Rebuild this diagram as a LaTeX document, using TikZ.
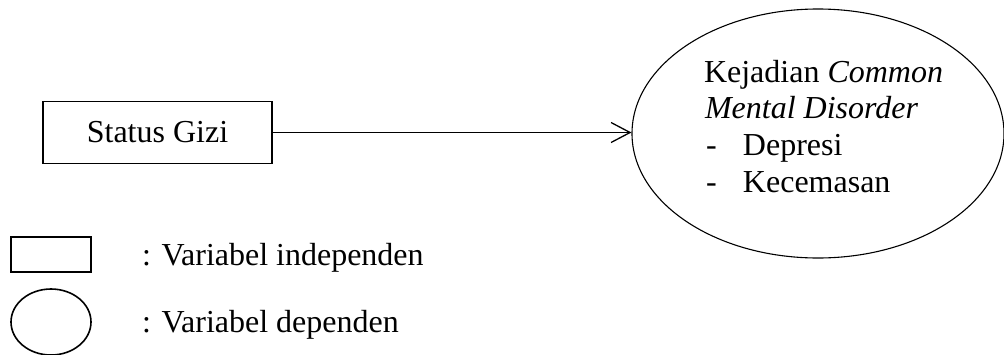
\documentclass[tikz,border=0pt]{standalone}
\usepackage{fontspec}
\setmainfont{Liberation Serif}
\usetikzlibrary{shapes.geometric,arrows.meta}
\begin{document}
\begin{tikzpicture}[x=1pt,y=-1pt,
  txt/.style={font=\fontsize{32}{37}\selectfont, inner sep=0pt, outer sep=0pt},
  box/.style={draw, line width=1.1pt, inner sep=0pt, font=\fontsize{32}{37}\selectfont},
  oval/.style={ellipse, draw, line width=1.1pt, inner sep=0pt},
  legbox/.style={draw, line width=1.6pt, inner sep=0pt},
  legoval/.style={ellipse, draw, line width=1.6pt, inner sep=0pt},
  arr/.style={-{Straight Barb[length=19pt,width=20pt,line width=1.3pt]}, line width=1.3pt}]
\useasboundingbox (0,0) rectangle (1004,354);
% main shapes
\node[box, minimum width=229pt, minimum height=62pt] (ind) at (157.5,132.5) {Status Gizi};
\node[oval, minimum width=372pt, minimum height=249pt] (dep) at (818,133.5) {};
\draw[arr] (ind.east) -- (ind.east -| dep.west);
% text in ellipse
\node[txt, anchor=base west] (l1) at (704,82) {Kejadian \textit{Common}};
\node[txt, anchor=base west] (l2) at (705,118.5) {\textit{Mental Disorder}};
\node[txt, anchor=base west] (l3) at (706,155.5) {\makebox[37pt][l]{-}Depresi};
\node[txt, anchor=base west] (l4) at (706,192.5) {\makebox[37pt][l]{-}Kecemasan};
% legend
\node[legbox, minimum width=80pt, minimum height=35pt] (lbox) at (51,254.5) {};
\node[legoval, minimum width=80pt, minimum height=66pt] (loval) at (51,322) {};
\node[txt, anchor=base west] (lt1) at (142,265) {: Variabel independen};
\node[txt, anchor=base west] (lt2) at (142,332) {: Variabel dependen};
\end{tikzpicture}
\end{document}
